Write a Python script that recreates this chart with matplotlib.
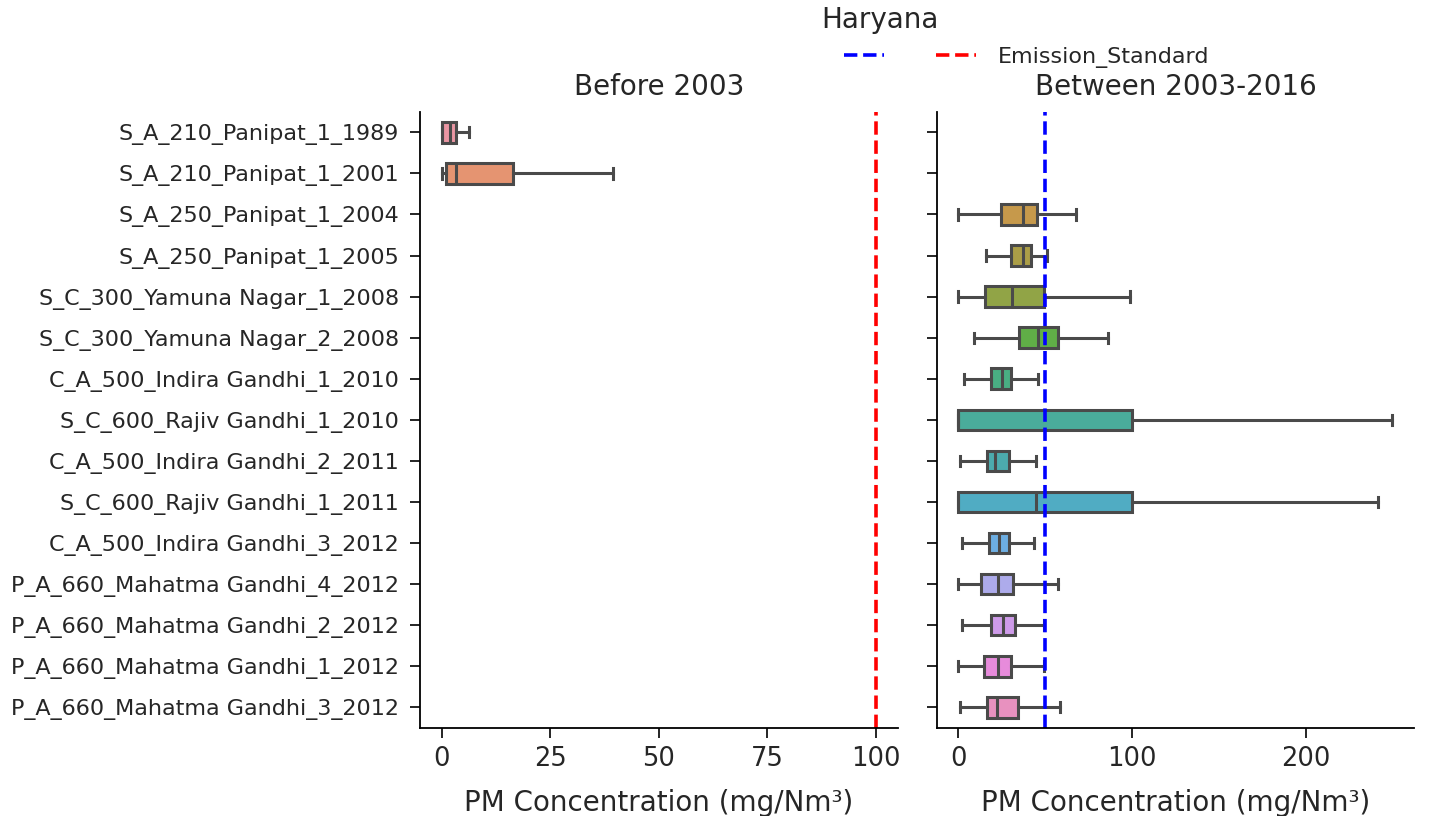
import matplotlib
matplotlib.use("Agg")
import matplotlib.pyplot as plt
import seaborn as sns
from matplotlib.lines import Line2D

categories = [
    "S_A_210_Panipat_1_1989", "S_A_210_Panipat_1_2001", "S_A_250_Panipat_1_2004",
    "S_A_250_Panipat_1_2005", "S_C_300_Yamuna Nagar_1_2008", "S_C_300_Yamuna Nagar_2_2008",
    "C_A_500_Indira Gandhi_1_2010", "S_C_600_Rajiv Gandhi_1_2010", "C_A_500_Indira Gandhi_2_2011",
    "S_C_600_Rajiv Gandhi_1_2011", "C_A_500_Indira Gandhi_3_2012", "P_A_660_Mahatma Gandhi_4_2012",
    "P_A_660_Mahatma Gandhi_2_2012", "P_A_660_Mahatma Gandhi_1_2012", "P_A_660_Mahatma Gandhi_3_2012",
]
# panel: 0 = Before 2003, 1 = Between 2003-2016
panel = [0, 0, 1, 1, 1, 1, 1, 1, 1, 1, 1, 1, 1, 1, 1]
whislo = [0.0, 0.0, 0.0, 15.9, 0.0, 8.8, 3.0, 0.0, 1.0, 0.0, 1.9, 0.0, 1.9, 0.0, 1.0]
q1 = [0.0, 0.9, 24.5, 30.3, 15.3, 35.0, 18.8, 0.0, 16.5, 0.0, 17.4, 13.0, 18.8, 15.0, 16.5]
med = [1.8, 3.4, 37.5, 37.0, 30.8, 45.6, 25.0, 0.0, 21.0, 44.6, 23.2, 22.6, 25.9, 22.6, 22.0]
q3 = [3.4, 16.4, 45.2, 41.8, 49.4, 57.6, 30.3, 100.0, 29.3, 100.0, 29.3, 31.2, 32.6, 30.3, 34.1]
whishi = [6.4, 39.4, 67.6, 51.3, 98.9, 86.2, 45.6, 249.6, 44.6, 241.4, 43.7, 57.5, 49.4, 49.4, 58.6]

titles = ["Before 2003", "Between 2003-2016"]
standards = [100, 50]
std_colors = ["red", "blue"]
xticks = [[0, 25, 50, 75, 100], [0, 100, 200]]

plt.rcParams["text.color"] = ".15"
plt.rcParams["axes.labelcolor"] = ".15"
plt.rcParams["xtick.labelcolor"] = ".15"
plt.rcParams["ytick.labelcolor"] = ".15"

colors = [sns.desaturate(c, 0.75) for c in sns.husl_palette(len(categories), l=0.7)]
edge = "#4a4a4a"
lw = 2.2

fig = plt.figure(figsize=(14.3, 8.16), dpi=100)
ax0 = fig.add_axes([0.2937, 0.108, 0.334, 0.755])
ax1 = fig.add_axes([0.655, 0.108, 0.334, 0.755], sharey=ax0)
axes = [ax0, ax1]

for p, ax in enumerate(axes):
    for i, cat in enumerate(categories):
        if panel[i] != p:
            continue
        st = [dict(whislo=whislo[i], q1=q1[i], med=med[i], q3=q3[i], whishi=whishi[i], fliers=[])]
        ax.bxp(st, positions=[i], widths=0.5, vert=False, patch_artist=True,
               showfliers=False,
               boxprops=dict(facecolor=colors[i], edgecolor=edge, linewidth=lw),
               medianprops=dict(color=edge, linewidth=lw),
               whiskerprops=dict(color=edge, linewidth=lw),
               capprops=dict(color=edge, linewidth=lw))
    ax.axvline(standards[p], color=std_colors[p], linestyle="--", linewidth=2.6)
    ax.set_title(titles[p], fontsize=20, pad=12)
    ax.set_xlabel("PM Concentration (mg/Nm³)", fontsize=20, labelpad=12)
    ax.set_xticks(xticks[p])
    ax.tick_params(axis="x", labelsize=18.5, length=7, width=1.2, pad=6)
    ax.spines["top"].set_visible(False)
    ax.spines["right"].set_visible(False)
    for s in ("left", "bottom"):
        ax.spines[s].set_linewidth(1.3)

ax0.set_xlim(-5, 105)
ax1.set_xlim(-12.5, 262.5)
ax0.set_ylim(len(categories) - 0.5, -0.5)
ax0.set_yticks(range(len(categories)))
ax0.set_yticklabels(categories)
ax0.tick_params(axis="y", labelsize=16, length=7, width=1.2, pad=8)
ax1.tick_params(axis="y", labelleft=False, length=7, width=1.2)

fig.text(880 / 1430, 1 - 20 / 816, "Haryana", fontsize=20, ha="center", va="center")

handles = [Line2D([], [], color="blue", linestyle="--", linewidth=2.6),
           Line2D([], [], color="red", linestyle="--", linewidth=2.6)]
leg = fig.legend(handles, ["", "Emission_Standard"], ncol=2,
                 frameon=False, fontsize=16,
                 loc="center", bbox_to_anchor=(1026.5 / 1430, 1 - 57 / 816),
                 columnspacing=1.35, handletextpad=1.0, handlelength=1.8,
                 borderpad=0)

fig.savefig("out.png", dpi=100)
